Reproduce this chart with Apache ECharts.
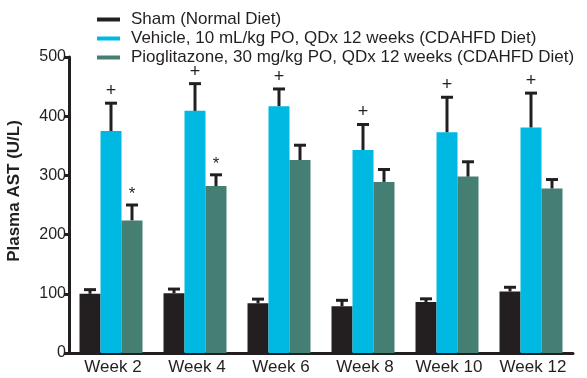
<!DOCTYPE html>
<html><head><meta charset="utf-8">
<script src="https://cdn.jsdelivr.net/npm/echarts@6/dist/echarts.min.js"></script>
<style>html,body{margin:0;padding:0;background:#fff}#c{width:587px;height:378px}</style>
</head><body><div id="c"></div>
<script>
const categories = ['Week 2','Week 4','Week 6','Week 8','Week 10','Week 12'];
const seriesNames = ['Sham (Normal Diet)','Vehicle, 10 mL/kg PO, QDx 12 weeks (CDAHFD Diet)','Pioglitazone, 30 mg/kg PO, QDx 12 weeks (CDAHFD Diet)'];
const yAxisTitle = 'Plasma AST (U/L)';
const shamValues = [100, 101, 84, 79, 86, 104];
const shamErrTop = [107, 108, 91, 89, 91.5, 111];
const vehicleValues = [375, 409, 417, 343, 373, 381];
const vehicleErrTop = [422, 455, 446, 386, 432, 439];
const pioValues = [224, 282, 326, 289, 298, 278];
const pioErrTop = [250, 301, 351, 310, 323, 293];
const shamSig = ['', '', '', '', '', ''];
const vehicleSig = ['+', '+', '+', '+', '+', '+'];
const pioSig = ['*', '*', '', '', '', ''];
const yTicks = [0, 100, 200, 300, 400, 500];

const colors = ['#231F20', '#00B9E3', '#457E72'];
const BW = 21;
const font = 'Liberation Sans, Arial, sans-serif';

function errSeries(idx, tops, vals, sig) {
  const offset = (idx - 1) * BW;
  return {
    type: 'custom',
    silent: true,
    z: 5,
    data: categories.map((c, i) => [i, vals[i], tops[i]]),
    renderItem: function (params, api) {
      const i = api.value(0);
      const base = api.coord([i, api.value(1)]);
      const top = api.coord([i, api.value(2)]);
      const x = base[0] + offset;
      const children = [
        {type: 'line', shape: {x1: x, y1: base[1], x2: x, y2: top[1]}, style: {stroke: '#231F20', lineWidth: 3}},
        {type: 'line', shape: {x1: x - 6, y1: top[1], x2: x + 6, y2: top[1]}, style: {stroke: '#231F20', lineWidth: 3}}
      ];
      const s = sig[params.dataIndex];
      if (s) {
        children.push({type: 'text', style: {text: s, x: x, y: top[1] - (s === '+' ? 3 : 2), textAlign: 'center', textVerticalAlign: 'bottom', fontSize: s === '+' ? 18 : 17, fontFamily: font, fill: '#231F20'}});
      }
      return {type: 'group', children: children};
    }
  };
}

const chart = echarts.init(document.getElementById('c'), null, {renderer: 'canvas'});
chart.setOption({
  animation: false,
  color: colors,
  textStyle: {fontFamily: font},
  legend: {
    orient: 'vertical', left: 92, top: 6, itemGap: 2,
    itemWidth: 23, itemHeight: 4, icon: 'rect',
    textStyle: {fontSize: 17, color: '#231F20', fontFamily: font, lineHeight: 17, padding: [0, 0, 0, 6]},
    data: seriesNames
  },
  graphic: [{
    type: 'text', x: 14, y: 191, rotation: Math.PI / 2,
    style: {text: yAxisTitle, fontSize: 17, fontWeight: 'bold', fontFamily: font, fill: '#231F20', textAlign: 'center', textVerticalAlign: 'middle'}
  }],
  grid: {left: 69, right: 14, top: 57, bottom: 25, containLabel: false, outerBoundsMode: 'none'},
  xAxis: {
    type: 'category', data: categories,
    axisLine: {lineStyle: {color: '#231F20', width: 3}},
    axisTick: {show: false},
    axisLabel: {interval: 0, hideOverlap: false, fontSize: 17, color: '#231F20', margin: 6, fontFamily: font, padding: [0, 0, 0, 4]}
  },
  yAxis: {
    type: 'value', min: yTicks[0], max: yTicks[yTicks.length - 1], interval: 100,
    axisLine: {show: true, lineStyle: {color: '#231F20', width: 3}},
    axisTick: {show: true, length: 5, lineStyle: {color: '#231F20', width: 3}},
    axisLabel: {fontSize: 16, color: '#231F20', margin: 3, fontFamily: font},
    splitLine: {show: false}
  },
  series: [
    {name: seriesNames[0], type: 'bar', data: shamValues, barWidth: BW, barGap: '0%', itemStyle: {color: colors[0]}},
    {name: seriesNames[1], type: 'bar', data: vehicleValues, barWidth: BW, barGap: '0%', itemStyle: {color: colors[1]}},
    {name: seriesNames[2], type: 'bar', data: pioValues, barWidth: BW, barGap: '0%', itemStyle: {color: colors[2]}},
    errSeries(0, shamErrTop, shamValues, shamSig),
    errSeries(1, vehicleErrTop, vehicleValues, vehicleSig),
    errSeries(2, pioErrTop, pioValues, pioSig)
  ]
});
</script></body></html>
